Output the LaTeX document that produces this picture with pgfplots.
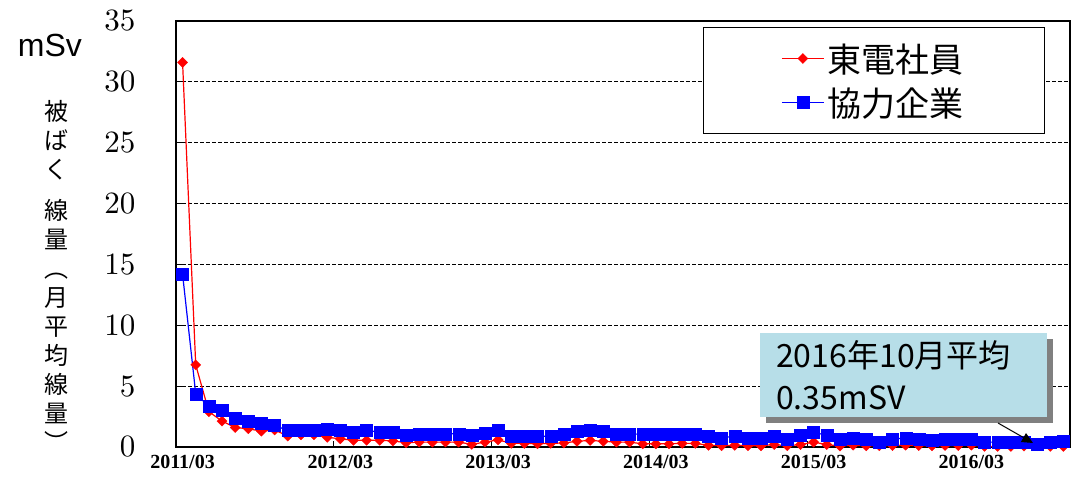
\documentclass[border=0pt]{standalone}
\usepackage{fontspec}
\usepackage{graphicx}
\usepackage{pgfplots}
\usepackage{pgfplotstable}
\pgfplotsset{compat=1.18}
\usetikzlibrary{arrows.meta}
\newfontfamily\cjk{Noto Sans CJK JP}
\newfontfamily\arial{Liberation Sans}
\newfontfamily\tnr{Liberation Serif}
\definecolor{boxcyan}{RGB}{183,222,232}

\pgfplotstableread{
n t k
0 31.6 14.2
1 6.75 4.38
2 2.90 3.34
3 2.13 3.06
4 1.60 2.40
5 1.50 2.13
6 1.30 2.00
7 1.40 1.77
8 0.90 1.36
9 1.00 1.36
10 1.00 1.36
11 0.80 1.50
12 0.67 1.36
13 0.55 1.22
14 0.55 1.36
15 0.55 1.22
16 0.50 1.22
17 0.35 1.00
18 0.40 1.09
19 0.40 1.09
20 0.40 1.09
21 0.40 1.09
22 0.22 1.00
23 0.40 1.14
24 0.59 1.41
25 0.30 0.89
26 0.30 0.89
27 0.26 0.89
28 0.30 0.89
29 0.33 1.09
30 0.47 1.27
31 0.54 1.41
32 0.47 1.27
33 0.40 1.09
34 0.40 1.09
35 0.26 1.03
36 0.26 1.03
37 0.26 1.03
38 0.30 1.09
39 0.30 1.09
40 0.14 0.86
41 0.10 0.76
42 0.14 0.89
43 0.10 0.76
44 0.10 0.76
45 0.20 0.86
46 0.10 0.67
47 0.20 0.95
48 0.40 1.22
49 0.20 0.95
50 0.08 0.62
51 0.15 0.76
52 0.10 0.62
53 0.10 0.40
54 0.12 0.62
55 0.15 0.76
56 0.12 0.62
57 0.10 0.59
58 0.12 0.62
59 0.12 0.65
60 0.15 0.62
61 0.05 0.40
62 0.05 0.40
63 0.05 0.40
64 0.08 0.40
65 0.10 0.25
66 0.05 0.40
67 0.05 0.45
}\datatable

\begin{document}
\begin{tikzpicture}
\useasboundingbox (-176pt,-30pt) rectangle (900pt,447pt);
\begin{axis}[
  at={(0pt,0pt)}, anchor=south west,
  scale only axis, width=894pt, height=426pt,
  xmin=-0.5, xmax=67.5, ymin=0, ymax=35,
  axis line style={line width=1.5pt},
  ytick={0,5,10,15,20,25,30,35},
  yticklabel={\scalebox{3.1}{\rmfamily\fontsize{10}{12}\selectfont\pgfmathprintnumber[assume math mode=true]{\tick}}},
  ytick pos=left, xtick pos=bottom,
  tick align=inside,
  ymajorgrids,
  major grid style={black, line width=0.8pt, dash pattern=on 4pt off 2pt},
  ytick style={black, line width=1pt},
  major tick length=6pt,
  yticklabel style={xshift=-37pt},
  xtick={0,12,24,36,48,60},
  xticklabels={2011/03,2012/03,2013/03,2014/03,2015/03,2016/03},
  xticklabel style={font=\tnr\bfseries\fontsize{20}{20}\selectfont, yshift=-5pt},
  xtick style={draw=none},
  extra x ticks={11.5,23.5,35.5,47.5,59.5},
  extra x tick labels={},
  extra x tick style={xtick style={draw=black, line width=1pt}, xmajorgrids=false, ymajorgrids=false},
  legend style={at={(0.972,0.986)}, anchor=north east, draw=black, line width=1pt,
    inner xsep=78pt, inner ysep=13pt, row sep=8pt,
    font=\cjk\fontsize{34}{40}\selectfont,
    nodes={inner sep=3pt}},
  legend cell align=left,
  legend image code/.code={\draw[mark repeat=2,mark phase=2] plot coordinates {(0pt,0pt) (21pt,0pt) (42pt,0pt)};},
]
\addplot[red, line width=1.2pt, mark=square*, mark size=3.6pt, mark options={rotate=45, fill=red, draw=red, line width=0.3pt}] table[x=n,y=t]{\datatable};
\addlegendentry{東電社員}
\addplot[blue, line width=1.2pt, mark=square*, mark size=6pt, mark options={fill=blue, draw=blue, line width=0.3pt}] table[x=n,y=k]{\datatable};
\addlegendentry{協力企業}
\end{axis}
% y label
\node[font=\arial\fontsize{32}{32}\selectfont] at (-126pt,402pt) {mSv};
\node[font=\cjk\fontsize{24}{29}\selectfont, align=center, anchor=north, inner sep=0pt] at (-119pt,347pt)
  {被\\ば\\く\\[12pt]線\\量\\︵\\月\\平\\均\\線\\量\\︶};
% annotation
\fill[black!50] (590pt,24pt) rectangle (877pt,108pt);
\fill[boxcyan] (584pt,30pt) rectangle (871pt,114pt);
\node[anchor=base west, font=\cjk\fontsize{32}{32}\selectfont, inner sep=0pt] at (600pt,80pt) {2016年10月平均};
\node[anchor=base west, font=\cjk\fontsize{32}{32}\selectfont, inner sep=0pt] at (600pt,38pt) {0.35mSV};
\draw[-{Triangle[length=11pt,width=10pt]}, line width=1pt] (822pt,24pt) -- (857pt,4pt);
\end{tikzpicture}
\end{document}
